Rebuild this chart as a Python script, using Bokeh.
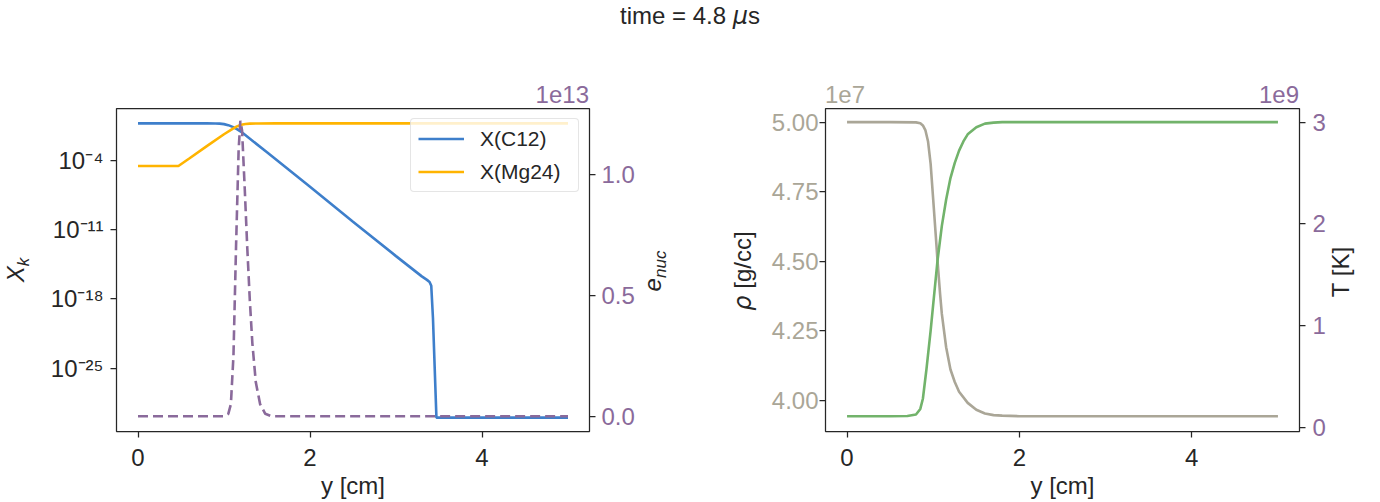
from bokeh.plotting import figure
from bokeh.models import (Range1d, LinearScale, LinearAxis, FixedTicker, CustomJSTickFormatter,
                          Legend, LegendItem, Div)
from bokeh.layouts import column, row
from bokeh.embed import file_html
from bokeh.resources import INLINE

# ---------------- data ----------------
title_time = "4.8"

# left panel: mass fractions (log) and energy generation
y_c12 = [0.0, 0.5, 0.8, 0.9, 0.95, 1.0, 1.05, 1.1, 1.15, 1.2, 1.5, 2.0, 2.5, 3.0, 3.30, 3.36,
         3.39, 3.41, 3.43, 3.45, 3.47, 4.0, 4.5, 5.0]
X_c12 = [0.5, 0.5, 0.5, 0.49, 0.47, 0.42, 0.33, 0.22, 0.13, 0.07, 6e-4, 2e-7, 6e-11, 2e-14, 1.8e-16,
         8e-17, 5e-17, 2e-17, 1e-20, 1e-25, 1e-30, 1e-30, 1e-30, 1e-30]

y_mg24 = [0.0, 0.47, 0.6, 0.8, 1.0, 1.1, 1.15, 1.2, 1.25, 1.3, 1.4, 1.6, 2.0, 3.0, 4.0, 5.0]
X_mg24 = [2.5e-5, 2.5e-5, 1.5e-4, 2.5e-3, 4e-2, 0.14, 0.25, 0.36, 0.43, 0.47, 0.49, 0.5, 0.5,
          0.5, 0.5, 0.5]

y_enuc = [0.0, 0.5, 1.0, 1.05, 1.08, 1.11, 1.14, 1.17, 1.19, 1.21, 1.24, 1.27, 1.30, 1.33, 1.37,
          1.42, 1.48, 1.55, 2.0, 3.0, 4.0, 5.0]
e_nuc = [0.0, 0.0, 0.0, 0.01e13, 0.05e13, 0.25e13, 0.70e13, 1.10e13, 1.22e13, 1.18e13, 0.95e13,
         0.70e13, 0.48e13, 0.30e13, 0.14e13, 0.05e13, 0.01e13, 0.0, 0.0, 0.0, 0.0, 0.0]

# right panel: density and temperature
y_rho = [0.0, 0.5, 0.8, 0.85, 0.88, 0.91, 0.94, 0.97, 1.0, 1.03, 1.05, 1.08, 1.1, 1.15, 1.2,
         1.25, 1.3, 1.4, 1.5, 1.6, 1.7, 1.8, 2.0, 3.0, 4.0, 5.0]
rho = [5.0e7, 5.0e7, 4.999e7, 4.996e7, 4.988e7, 4.97e7, 4.93e7, 4.85e7, 4.72e7, 4.59e7, 4.50e7,
       4.38e7, 4.31e7, 4.19e7, 4.11e7, 4.065e7, 4.03e7, 3.99e7, 3.965e7, 3.952e7, 3.946e7,
       3.944e7, 3.942e7, 3.942e7, 3.942e7, 3.942e7]

y_T = [0.0, 0.5, 0.7, 0.8, 0.85, 0.88, 0.92, 0.97, 1.0, 1.05, 1.1, 1.15, 1.2, 1.25, 1.3, 1.35,
       1.4, 1.5, 1.6, 1.7, 1.8, 2.0, 3.0, 4.0, 5.0]
T = [0.108e9, 0.108e9, 0.11e9, 0.125e9, 0.18e9, 0.28e9, 0.56e9, 0.95e9, 1.21e9, 1.64e9, 1.98e9,
     2.24e9, 2.45e9, 2.60e9, 2.72e9, 2.81e9, 2.88e9, 2.95e9, 2.985e9, 2.995e9, 3.0e9, 3.0e9,
     3.0e9, 3.0e9, 3.0e9]

x_ticks = [0, 2, 4]
Xk_ticks = [1e-25, 1e-18, 1e-11, 1e-4]
enuc_ticks = [0.0, 0.5e13, 1.0e13]
rho_ticks = [4.0e7, 4.25e7, 4.5e7, 4.75e7, 5.0e7]
T_ticks = [0.0, 1e9, 2e9, 3e9]

# ---------------- style ----------------
FONT = "Liberation Sans"
DARK = "#262626"
BLUE = "#3e7fcb"
ORANGE = "#ffb400"
PURPLE = "#8a6a9b"
GREEN = "#72b36b"
BEIGE = "#aaa697"
FS = "24px"


def style_common(p):
    p.xgrid.visible = False
    p.ygrid.visible = False
    p.outline_line_color = DARK
    p.outline_line_width = 1.25
    p.background_fill_color = None
    p.border_fill_color = None


def style_axis(ax, color=DARK, standoff=4):
    ax.axis_line_color = None
    ax.major_tick_out = 6
    ax.major_tick_in = 0
    ax.major_tick_line_color = DARK
    ax.major_tick_line_width = 1.25
    ax.minor_tick_line_color = None
    ax.major_label_text_font = FONT
    ax.major_label_text_font_size = FS
    ax.major_label_text_color = color
    ax.major_label_standoff = standoff


def style_xlabel(ax):
    ax.axis_label = "y [cm]"
    ax.axis_label_text_font = FONT
    ax.axis_label_text_font_size = FS
    ax.axis_label_text_font_style = "normal"
    ax.axis_label_text_color = DARK
    ax.axis_label_standoff = 3


# ---------------- left panel ----------------
p1 = figure(width=700, height=454, output_backend="svg", toolbar_location=None,
            y_axis_type="log", x_range=Range1d(-0.25, 5.25),
            y_range=Range1d(10 ** -31.4, 10 ** 1.2),
            min_border_left=116, min_border_right=111, min_border_top=60, min_border_bottom=71)
style_common(p1)
p1.extra_y_ranges = {"enuc": Range1d(-0.063e13, 1.271e13)}
p1.extra_y_scales = {"enuc": LinearScale()}

p1.xaxis[0].ticker = FixedTicker(ticks=x_ticks, minor_ticks=[])
style_axis(p1.xaxis[0], standoff=11)
style_xlabel(p1.xaxis[0])
p1.yaxis[0].ticker = FixedTicker(ticks=Xk_ticks, minor_ticks=[])
p1.yaxis[0].formatter = CustomJSTickFormatter(code="""
const e = Math.round(Math.log10(tick));
const sup = {'-':'\u207b','0':'\u2070','1':'\u00b9','2':'\u00b2','3':'\u00b3','4':'\u2074',
             '5':'\u2075','6':'\u2076','7':'\u2077','8':'\u2078','9':'\u2079'};
return '10' + String(e).split('').map(c => sup[c]).join('');
""")
style_axis(p1.yaxis[0], standoff=7)

ax_e = LinearAxis(y_range_name="enuc", ticker=FixedTicker(ticks=enuc_ticks, minor_ticks=[]),
                  formatter=CustomJSTickFormatter(code="return (tick/1e13).toFixed(1);"))
style_axis(ax_e, color=PURPLE, standoff=6)
p1.add_layout(ax_e, "right")

r_c12 = p1.line(y_c12, X_c12, line_color=BLUE, line_width=2.6)
r_mg = p1.line(y_mg24, X_mg24, line_color=ORANGE, line_width=2.6)
p1.line(y_enuc, e_nuc, y_range_name="enuc", line_color=PURPLE, line_width=2.6, line_dash="10 5")

legend = Legend(items=[LegendItem(label="X(C12)", renderers=[r_c12]),
                       LegendItem(label="X(Mg24)", renderers=[r_mg])],
                location="top_right", margin=10, padding=7, spacing=8,
                glyph_width=46, glyph_height=25, label_height=25, label_width=91,
                label_standoff=16, label_text_font=FONT, label_text_font_size="21px",
                label_text_color=DARK, border_line_color="#cccccc", border_line_width=1,
                background_fill_color="white", background_fill_alpha=0.8)
if "border_radius" in legend.properties():
    legend.border_radius = 4
p1.add_layout(legend)

# ---------------- right panel ----------------
p2 = figure(width=680, height=454, output_backend="svg", toolbar_location=None,
            x_range=Range1d(-0.25, 5.25), y_range=Range1d(3.887e7, 5.049e7),
            min_border_left=125, min_border_right=81, min_border_top=60, min_border_bottom=71)
style_common(p2)
p2.extra_y_ranges = {"T": Range1d(-0.042e9, 3.134e9)}
p2.extra_y_scales = {"T": LinearScale()}

p2.xaxis[0].ticker = FixedTicker(ticks=x_ticks, minor_ticks=[])
style_axis(p2.xaxis[0], standoff=11)
style_xlabel(p2.xaxis[0])
p2.yaxis[0].ticker = FixedTicker(ticks=rho_ticks, minor_ticks=[])
p2.yaxis[0].formatter = CustomJSTickFormatter(code="return (tick/1e7).toFixed(2);")
style_axis(p2.yaxis[0], color=BEIGE, standoff=1)

ax_T = LinearAxis(y_range_name="T", ticker=FixedTicker(ticks=T_ticks, minor_ticks=[]),
                  formatter=CustomJSTickFormatter(code="return (tick/1e9).toFixed(0);"))
style_axis(ax_T, color=PURPLE, standoff=7)
p2.add_layout(ax_T, "right")

p2.line(y_rho, rho, line_color=BEIGE, line_width=2.6)
p2.line(y_T, T, y_range_name="T", line_color=GREEN, line_width=2.6)

# ---------------- title and rotated / offset texts (page pixel positions) ----------------
BASE = "position:absolute;white-space:nowrap;font-family:'Liberation Sans';font-size:24px;line-height:24px;"


def vtext(html, cx, cy, color=DARK):
    return (f'<div style="{BASE}left:{cx}px;top:{cy}px;color:{color};'
            f'transform:translate(-50%,-50%) rotate(-90deg);">{html}</div>')


def htext(html, left, top, color=DARK, right_align=False):
    tr = "transform:translateX(-100%);" if right_align else ""
    return f'<div style="{BASE}left:{left}px;top:{top}px;color:{color};{tr}">{html}</div>'


SUB = "font-size:17px;position:relative;top:5px;font-style:italic;"
parts = [
    f'<div style="{BASE}left:0px;top:3.7px;width:1380px;text-align:center;color:{DARK};">'
    f'time = {title_time} <span style="font-family:\'DejaVu Sans\';font-style:italic;">&mu;</span>s</div>',
    vtext(f'<i>X</i><span style="{SUB}">k</span>', 16.7, 270),
    vtext(f'<i>e</i><span style="{SUB}">nuc</span>', 654, 271),
    vtext('<span style="font-family:\'DejaVu Sans\';font-style:italic;">&rho;</span> [g/cc]', 742.7, 271),
    vtext('T [K]', 1340.7, 271.7),
    htext('1e13', 589, 82.7, color=PURPLE, right_align=True),
    htext('1e7', 825, 82.7, color=BEIGE),
    htext('1e9', 1299, 82.7, color=PURPLE, right_align=True),
]
overlay = ('<div style="position:relative;width:1380px;height:48px;overflow:visible;z-index:5;">'
           + "".join(parts) + '</div>')
title = Div(text=overlay, width=1380, height=48, margin=0, styles={"overflow": "visible", "z-index": "5"})

layout = column(title, row(p1, p2, spacing=0), spacing=0)

open("out.html", "w").write(file_html(layout, INLINE))
